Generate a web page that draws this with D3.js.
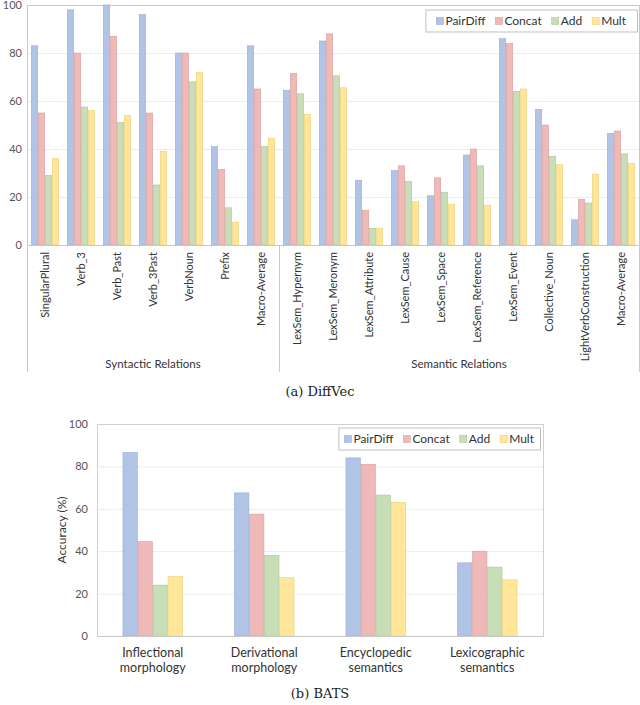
<!DOCTYPE html>
<html>
<head>
<meta charset="utf-8">
<script src="https://cdn.jsdelivr.net/npm/d3@7"></script>
<style>
  body { margin: 0; background: #fff; }
  text { font-family: Lato, "Open Sans", sans-serif; }
</style>
</head>
<body>
<div id="container"></div>
<script>
// series names, shared by both charts
const methods = ["PairDiff", "Concat", "Add", "Mult"];
const colors = ["#b1c4e6", "#eeb9b6", "#c7deb7", "#ffe69a"];
const strokes = ["#98aedb", "#d9a19e", "#a9c898", "#eccf76"];

// (a) DiffVec
const dvCategories = ["SingularPlural", "Verb_3", "Verb_Past", "Verb_3Past", "VerbNoun", "Prefix", "Macro-Average",
    "LexSem_Hypernym", "LexSem_Meronym", "LexSem_Attribute", "LexSem_Cause", "LexSem_Space", "LexSem_Reference",
    "LexSem_Event", "Collective_Noun", "LightVerbConstruction", "Macro-Average "];
const dvGroupNames = ["Syntactic Relations", "Semantic Relations"];
const dvGroupSizes = [7, 10];
const dvPairDiff = [83, 98, 100, 96, 80, 41, 83, 64.5, 85, 27, 31, 20.5, 37.5, 86, 56.5, 10.5, 46.5];
const dvConcat   = [55, 80, 87, 55, 80, 31.5, 65, 71.5, 88, 14.5, 33, 28, 40, 84, 50, 19, 47.5];
const dvAdd      = [29, 57.5, 51, 25, 68, 15.5, 41, 63, 70.5, 7, 26.5, 22, 33, 64, 37, 17.5, 38];
const dvMult     = [36, 56, 54, 39, 72, 9.5, 44.5, 54.5, 65.5, 7, 18, 17, 16.5, 65, 33.5, 29.5, 34];

// (b) BATS
const batsCategories = [["Inflectional", "morphology"], ["Derivational", "morphology"],
    ["Encyclopedic", "semantics"], ["Lexicographic", "semantics"]];
const batsPairDiff = [86.5, 67.5, 84, 34.5];
const batsConcat   = [44.5, 57.5, 81, 40];
const batsAdd      = [24, 38, 66.5, 32.5];
const batsMult     = [28, 27.5, 63, 26.5];

const yTicks = [0, 20, 40, 60, 80, 100];

const svg = d3.select("#container").append("svg")
    .attr("width", 640)
    .attr("height", 705);

function toRows(cats, series) {
    return cats.map((c, i) => ({ cat: c, values: series.map(s => s[i]) }));
}

// legend is laid out from the right edge of its box
function drawLegend(g, right, top, h, pad) {
    const box = g.append("rect")
        .attr("y", top).attr("height", h)
        .attr("fill", "#fff").attr("stroke", "#bfbfbf");
    const items = g.append("g");
    let cx = 0;
    methods.forEach((m, i) => {
        items.append("rect")
            .attr("x", cx).attr("y", top + h / 2 - 3.5)
            .attr("width", 7).attr("height", 7)
            .attr("fill", colors[i]).attr("stroke", strokes[i]).attr("stroke-width", 0.6);
        const t = items.append("text")
            .attr("x", cx + 9).attr("y", top + h / 2)
            .attr("dy", "0.35em")
            .style("font-size", "12px")
            .style("fill", "#333")
            .text(m);
        cx += 9 + t.node().getComputedTextLength() + (i < methods.length - 1 ? 10 : 0);
    });
    const w = cx + 2 * pad;
    box.attr("x", right - w + 0.5).attr("width", w);
    items.attr("transform", `translate(${right - w + pad},0)`);
}

function drawBars(g, rows, x0, x1, y) {
    g.selectAll("g.cat")
        .data(rows)
      .enter().append("g")
        .attr("class", "cat")
        .attr("transform", d => `translate(${x0(d.cat)},0)`)
      .selectAll("rect")
        .data(d => d.values.map((v, i) => ({ key: methods[i], v: v, i: i })))
      .enter().append("rect")
        .attr("x", d => x1(d.key) + 0.3)
        .attr("width", x1.bandwidth() - 0.6)
        .attr("y", d => y(d.v))
        .attr("height", d => y(0) - y(d.v))
        .attr("fill", d => colors[d.i])
        .attr("stroke", d => strokes[d.i])
        .attr("stroke-width", 0.6);
}

// ---------- (a) DiffVec ----------
{
    const left = 27, right = 639, top = 5, bottom = 245;
    const g = svg.append("g");

    const x0 = d3.scaleBand().domain(dvCategories).range([left, right])
        .paddingInner(8 / 36).paddingOuter(4 / 36);
    const x1 = d3.scaleBand().domain(methods).range([0, x0.bandwidth()]);
    const y = d3.scaleLinear().domain([0, 100]).range([bottom, top]);

    // gridlines
    g.selectAll("line.grid")
        .data(yTicks.slice(1, -1))
      .enter().append("line")
        .attr("x1", left).attr("x2", right)
        .attr("y1", d => y(d) + 0.5).attr("y2", d => y(d) + 0.5)
        .attr("stroke", "#ececec");

    g.append("rect")
        .attr("x", left + 0.5).attr("y", top + 0.5)
        .attr("width", right - left).attr("height", bottom - top)
        .attr("fill", "none").attr("stroke", "#c8c8c8");

    drawBars(g, toRows(dvCategories, [dvPairDiff, dvConcat, dvAdd, dvMult]), x0, x1, y);

    // y ticks
    const yAxis = g.append("g")
        .attr("transform", `translate(${left - 5},0)`)
        .call(d3.axisLeft(y).tickValues(yTicks).tickSize(0).tickPadding(0));
    yAxis.select(".domain").remove();
    yAxis.selectAll("text")
        .style("font-family", "Lato, sans-serif")
        .style("font-size", "11px")
        .style("fill", "#555");

    // baseline
    g.append("line")
        .attr("x1", left).attr("x2", right)
        .attr("y1", bottom + 0.5).attr("y2", bottom + 0.5)
        .attr("stroke", "#c8c8c8");

    // category labels
    g.selectAll("text.cat")
        .data(dvCategories)
      .enter().append("text")
        .attr("class", "cat")
        .attr("transform", d => `translate(${x0(d) + x0.bandwidth() / 2},${bottom + 7}) rotate(-90)`)
        .attr("dy", "0.35em")
        .style("text-anchor", "end")
        .style("font-size", "11px")
        .style("fill", "#333")
        .text(d => d.trim());

    // group separators and labels
    const step = x0.step();
    let start = 0;
    const bounds = [left];
    dvGroupSizes.forEach(n => { start += n; bounds.push(left + start * step); });
    g.selectAll("line.sep")
        .data(bounds)
      .enter().append("line")
        .attr("x1", d => d + 0.5).attr("x2", d => d + 0.5)
        .attr("y1", bottom).attr("y2", 372)
        .attr("stroke", "#c8c8c8");
    g.selectAll("text.grp")
        .data(dvGroupNames)
      .enter().append("text")
        .attr("x", (d, i) => (bounds[i] + bounds[i + 1]) / 2)
        .attr("y", 368)
        .style("text-anchor", "middle")
        .style("font-size", "11.5px")
        .style("fill", "#333")
        .text(d => d);

    drawLegend(g, 637, 10, 22, 11);

    svg.append("text")
        .attr("x", 320).attr("y", 396)
        .style("text-anchor", "middle")
        .style("font-family", "'DejaVu Serif', serif")
        .style("font-size", "13px")
        .style("fill", "#222")
        .text("(a) DiffVec");
}

// ---------- (b) BATS ----------
{
    const left = 97, right = 543, top = 424, bottom = 636;
    const g = svg.append("g");
    const keys = batsCategories.map(d => d.join(" "));

    const x0 = d3.scaleBand().domain(keys).range([left, right])
        .paddingInner(0.46).paddingOuter(0.23);
    const x1 = d3.scaleBand().domain(methods).range([0, x0.bandwidth()]);
    const y = d3.scaleLinear().domain([0, 100]).range([bottom, top]);

    g.selectAll("line.grid")
        .data(yTicks.slice(1, -1))
      .enter().append("line")
        .attr("x1", left).attr("x2", right)
        .attr("y1", d => y(d) + 0.5).attr("y2", d => y(d) + 0.5)
        .attr("stroke", "#ececec");

    g.append("rect")
        .attr("x", left + 0.5).attr("y", top + 0.5)
        .attr("width", right - left).attr("height", bottom - top)
        .attr("fill", "none").attr("stroke", "#d0d0d0");

    drawBars(g, toRows(keys, [batsPairDiff, batsConcat, batsAdd, batsMult]), x0, x1, y);

    const yAxis = g.append("g")
        .attr("transform", `translate(${left - 9},0)`)
        .call(d3.axisLeft(y).tickValues(yTicks).tickSize(0).tickPadding(0));
    yAxis.select(".domain").remove();
    yAxis.selectAll("text")
        .style("font-family", "Lato, sans-serif")
        .style("font-size", "11px")
        .style("fill", "#555");

    g.append("line")
        .attr("x1", left).attr("x2", right)
        .attr("y1", bottom + 0.5).attr("y2", bottom + 0.5)
        .attr("stroke", "#c8c8c8");

    const labels = g.selectAll("text.cat")
        .data(batsCategories)
      .enter().append("text")
        .attr("x", (d, i) => x0(keys[i]) + x0.bandwidth() / 2)
        .attr("y", 657)
        .style("text-anchor", "middle")
        .style("font-size", "12.5px")
        .style("fill", "#333");
    labels.selectAll("tspan")
        .data(d => d)
      .enter().append("tspan")
        .attr("x", function () { return d3.select(this.parentNode).attr("x"); })
        .attr("dy", (d, i) => i === 0 ? 0 : 14.5)
        .text(d => d);

    g.append("text")
        .attr("transform", `translate(66,${(top + bottom) / 2}) rotate(-90)`)
        .style("text-anchor", "middle")
        .style("font-size", "12px")
        .style("fill", "#333")
        .text("Accuracy (%)");

    drawLegend(g, 540, 428, 22, 6);

    svg.append("text")
        .attr("x", 320).attr("y", 698)
        .style("text-anchor", "middle")
        .style("font-family", "'DejaVu Serif', serif")
        .style("font-size", "13px")
        .style("fill", "#222")
        .text("(b) BATS");
}
</script>
</body>
</html>
